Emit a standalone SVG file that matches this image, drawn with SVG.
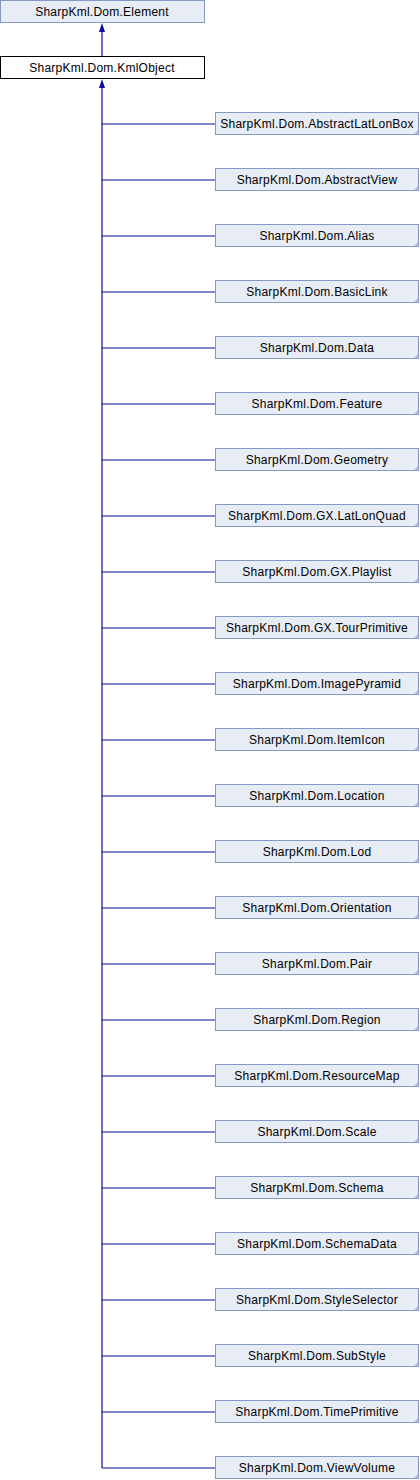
<svg xmlns="http://www.w3.org/2000/svg" width="420" height="1480" viewBox="0 0 420 1480">
<style>
.box{fill:#e8ecf5;stroke:#8599c9;stroke-width:1}
.cur{fill:#ffffff;stroke:#000000;stroke-width:1}
.t{font-family:"Liberation Sans",Arial,sans-serif;font-size:12px;letter-spacing:0.25px;fill:#000000;text-anchor:middle}
.e{stroke:#0a0a96;stroke-width:1.2;fill:none}
.ah{fill:#0a0a96}
.cn{fill:#b4bfd9}
</style>
<defs>
<polygon id="arrow" class="ah" points="0,0 -3,9 3,9"/>
</defs>
<g id="connectors">
<line class="e" x1="102" y1="30" x2="102" y2="56"/>
<use href="#arrow" x="102" y="23"/>
<line class="e" x1="102" y1="86" x2="102" y2="1468"/>
<use href="#arrow" x="102" y="79"/>
<path class="e" d="M102,124H215M102,180H215M102,236H215M102,292H215M102,348H215M102,404H215M102,460H215M102,516H215M102,572H215M102,628H215M102,684H215M102,740H215M102,796H215M102,852H215M102,908H215M102,964H215M102,1020H215M102,1076H215M102,1132H215M102,1188H215M102,1244H215M102,1300H215M102,1356H215M102,1412H215M102,1468H215"/>
</g>
<g id="Element"><rect class="box" x="0.5" y="0.5" width="204" height="22"/><text class="t" x="102" y="15.5">SharpKml.Dom.Element</text></g>
<g id="KmlObject"><rect class="cur" x="0.5" y="56.5" width="204" height="22"/><text class="t" x="102" y="71.5">SharpKml.Dom.KmlObject</text></g>
<g id="AbstractLatLonBox"><rect class="box" x="215.5" y="112.5" width="203" height="22"/><polygon class="cn" points="418,130 418,134 414,134"/><text class="t" x="317" y="128">SharpKml.Dom.AbstractLatLonBox</text></g>
<g id="AbstractView"><rect class="box" x="215.5" y="168.5" width="203" height="22"/><polygon class="cn" points="418,186 418,190 414,190"/><text class="t" x="317" y="184">SharpKml.Dom.AbstractView</text></g>
<g id="Alias"><rect class="box" x="215.5" y="224.5" width="203" height="22"/><polygon class="cn" points="418,242 418,246 414,246"/><text class="t" x="317" y="240">SharpKml.Dom.Alias</text></g>
<g id="BasicLink"><rect class="box" x="215.5" y="280.5" width="203" height="22"/><polygon class="cn" points="418,298 418,302 414,302"/><text class="t" x="317" y="296">SharpKml.Dom.BasicLink</text></g>
<g id="Data"><rect class="box" x="215.5" y="336.5" width="203" height="22"/><polygon class="cn" points="418,354 418,358 414,358"/><text class="t" x="317" y="352">SharpKml.Dom.Data</text></g>
<g id="Feature"><rect class="box" x="215.5" y="392.5" width="203" height="22"/><polygon class="cn" points="418,410 418,414 414,414"/><text class="t" x="317" y="408">SharpKml.Dom.Feature</text></g>
<g id="Geometry"><rect class="box" x="215.5" y="448.5" width="203" height="22"/><polygon class="cn" points="418,466 418,470 414,470"/><text class="t" x="317" y="464">SharpKml.Dom.Geometry</text></g>
<g id="LatLonQuad"><rect class="box" x="215.5" y="504.5" width="203" height="22"/><polygon class="cn" points="418,522 418,526 414,526"/><text class="t" x="317" y="520">SharpKml.Dom.GX.LatLonQuad</text></g>
<g id="Playlist"><rect class="box" x="215.5" y="560.5" width="203" height="22"/><polygon class="cn" points="418,578 418,582 414,582"/><text class="t" x="317" y="576">SharpKml.Dom.GX.Playlist</text></g>
<g id="TourPrimitive"><rect class="box" x="215.5" y="616.5" width="203" height="22"/><polygon class="cn" points="418,634 418,638 414,638"/><text class="t" x="317" y="632">SharpKml.Dom.GX.TourPrimitive</text></g>
<g id="ImagePyramid"><rect class="box" x="215.5" y="672.5" width="203" height="22"/><polygon class="cn" points="418,690 418,694 414,694"/><text class="t" x="317" y="688">SharpKml.Dom.ImagePyramid</text></g>
<g id="ItemIcon"><rect class="box" x="215.5" y="728.5" width="203" height="22"/><polygon class="cn" points="418,746 418,750 414,750"/><text class="t" x="317" y="744">SharpKml.Dom.ItemIcon</text></g>
<g id="Location"><rect class="box" x="215.5" y="784.5" width="203" height="22"/><polygon class="cn" points="418,802 418,806 414,806"/><text class="t" x="317" y="800">SharpKml.Dom.Location</text></g>
<g id="Lod"><rect class="box" x="215.5" y="840.5" width="203" height="22"/><polygon class="cn" points="418,858 418,862 414,862"/><text class="t" x="317" y="856">SharpKml.Dom.Lod</text></g>
<g id="Orientation"><rect class="box" x="215.5" y="896.5" width="203" height="22"/><polygon class="cn" points="418,914 418,918 414,918"/><text class="t" x="317" y="912">SharpKml.Dom.Orientation</text></g>
<g id="Pair"><rect class="box" x="215.5" y="952.5" width="203" height="22"/><polygon class="cn" points="418,970 418,974 414,974"/><text class="t" x="317" y="968">SharpKml.Dom.Pair</text></g>
<g id="Region"><rect class="box" x="215.5" y="1008.5" width="203" height="22"/><polygon class="cn" points="418,1026 418,1030 414,1030"/><text class="t" x="317" y="1024">SharpKml.Dom.Region</text></g>
<g id="ResourceMap"><rect class="box" x="215.5" y="1064.5" width="203" height="22"/><polygon class="cn" points="418,1082 418,1086 414,1086"/><text class="t" x="317" y="1080">SharpKml.Dom.ResourceMap</text></g>
<g id="Scale"><rect class="box" x="215.5" y="1120.5" width="203" height="22"/><polygon class="cn" points="418,1138 418,1142 414,1142"/><text class="t" x="317" y="1136">SharpKml.Dom.Scale</text></g>
<g id="Schema"><rect class="box" x="215.5" y="1176.5" width="203" height="22"/><polygon class="cn" points="418,1194 418,1198 414,1198"/><text class="t" x="317" y="1192">SharpKml.Dom.Schema</text></g>
<g id="SchemaData"><rect class="box" x="215.5" y="1232.5" width="203" height="22"/><polygon class="cn" points="418,1250 418,1254 414,1254"/><text class="t" x="317" y="1248">SharpKml.Dom.SchemaData</text></g>
<g id="StyleSelector"><rect class="box" x="215.5" y="1288.5" width="203" height="22"/><polygon class="cn" points="418,1306 418,1310 414,1310"/><text class="t" x="317" y="1304">SharpKml.Dom.StyleSelector</text></g>
<g id="SubStyle"><rect class="box" x="215.5" y="1344.5" width="203" height="22"/><polygon class="cn" points="418,1362 418,1366 414,1366"/><text class="t" x="317" y="1360">SharpKml.Dom.SubStyle</text></g>
<g id="TimePrimitive"><rect class="box" x="215.5" y="1400.5" width="203" height="22"/><polygon class="cn" points="418,1418 418,1422 414,1422"/><text class="t" x="317" y="1416">SharpKml.Dom.TimePrimitive</text></g>
<g id="ViewVolume"><rect class="box" x="215.5" y="1456.5" width="203" height="22"/><polygon class="cn" points="418,1474 418,1478 414,1478"/><text class="t" x="317" y="1472">SharpKml.Dom.ViewVolume</text></g>
</svg>
